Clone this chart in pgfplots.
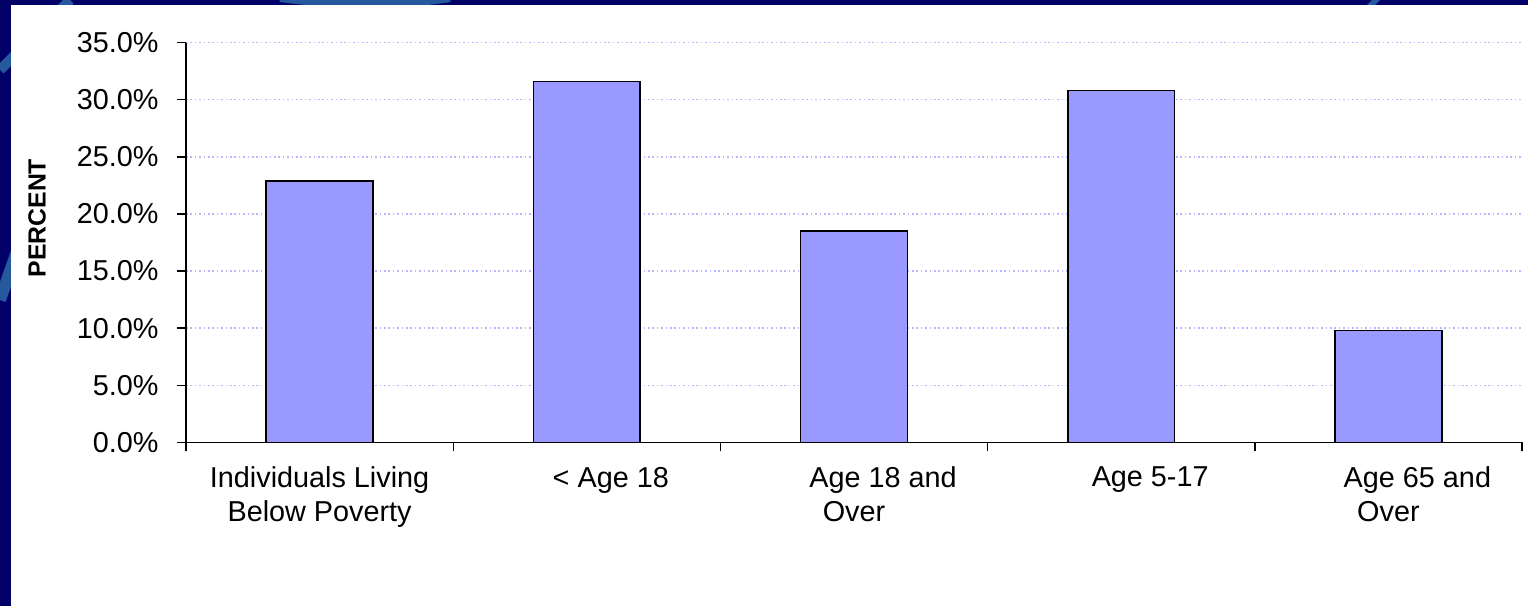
\documentclass[border=0pt]{standalone}
\usepackage{pgfplots}
\pgfplotsset{compat=1.18}
\usepackage{fontspec}
\setmainfont{Liberation Sans}
\definecolor{navy}{RGB}{0,0,102}
\definecolor{swirl}{RGB}{38,88,158}
\definecolor{barfill}{RGB}{153,153,255}
\definecolor{gridc}{RGB}{185,185,255}
\begin{document}
\begin{tikzpicture}[x=1pt,y=1pt]
\fill[navy] (0,0) rectangle (764,303);
\begin{scope}
\clip (0,0) rectangle (764,303);
\draw[swirl, line width=5pt] (0,268) -- (35,303);
\draw[swirl, line width=4pt] (140,304) .. controls (170,300) and (200,300) .. (225,304);
\draw[swirl, line width=6pt] (0,153) -- (14,193);
\draw[swirl, line width=3pt] (683,298) -- (690,305);
\end{scope}
\fill[white] (5.5,0) rectangle (764,300.5);
\begin{axis}[
  at={(93pt,81.85pt)}, anchor=south west,
  scale only axis, width=668pt, height=199.8pt,
  xmin=-0.5, xmax=4.5, ymin=0, ymax=35,
  axis lines=left, axis line style={-, black, line width=0.7pt},
  tick align=outside,
  major tick length=4.5pt,
  tick style={black, line width=0.7pt},
  ytick={0,5,10,15,20,25,30,35},
  yticklabels={0.0\%,5.0\%,10.0\%,15.0\%,20.0\%,25.0\%,30.0\%,35.0\%},
  xtick={-0.5,0.5,1.5,2.5,3.5,4.5},
  xticklabels={},
  extra x ticks={0,1,2,3,4},
  extra x tick labels={Individuals Living\\Below Poverty, \hspace*{24pt}< Age 18, \hspace*{29pt}Age 18 and\\Over, \hspace*{29pt}Age 5-17, \hspace*{29pt}Age 65 and\\Over},
  extra x tick style={major tick style={draw=none}},
  ymajorgrids=true,
  major grid style={gridc, dash pattern=on 0.8pt off 1.4pt, line width=0.7pt},
  yticklabel style={font={\fontsize{14.4pt}{16.8pt}\selectfont}, inner sep=0pt, anchor=east, xshift=-9pt},
  xticklabel style={font={\fontsize{14.4pt}{16.8pt}\selectfont}, inner sep=0pt, anchor=north, align=center, yshift=-7.7pt},
  ylabel={PERCENT},
  ylabel style={font={\fontsize{12.4pt}{14pt}\selectfont\bfseries}, at={(axis description cs:-0.1115,0.561)}, anchor=center},
]
\addplot[ybar, bar width=0.4, fill=barfill, draw=black, line width=0.75pt]
  coordinates {(0,22.9) (1,31.6) (2,18.5) (3,30.8) (4,9.8)};
\end{axis}
\end{tikzpicture}
\end{document}
